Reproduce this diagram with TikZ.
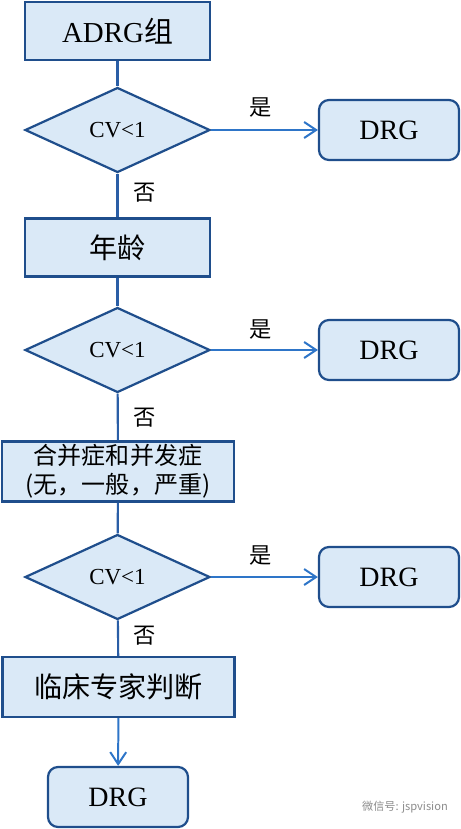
\documentclass[tikz,border=0pt]{standalone}
\usepackage{fontspec}
\setmainfont{Liberation Serif}
\newfontfamily\cjk{Noto Sans CJK SC}
\usetikzlibrary{shapes.geometric,arrows.meta}
\definecolor{boxfill}{HTML}{DAE9F7}
\definecolor{boxline}{HTML}{1F4E8C}
\definecolor{linkdark}{HTML}{2A5EA6}
\definecolor{linkblue}{HTML}{2E75C8}
\begin{document}
\begin{tikzpicture}[x=0.03cm, y=-0.03cm,
    stepbox/.style={draw=boxline, fill=boxfill, line width=2.1pt, inner sep=0pt,
      minimum width=5.55cm, minimum height=1.74cm},
    widebox/.style={stepbox, minimum width=6.96cm, minimum height=1.8cm},
    cvtest/.style={diamond, draw=boxline, fill=boxfill, line width=1.9pt, inner sep=0pt,
      minimum width=5.55cm, minimum height=2.55cm, font=\fontsize{19.6}{22}\selectfont},
    drgbox/.style={draw=boxline, fill=boxfill, line width=1.9pt, rounded corners=0.3cm,
      minimum width=4.2cm, minimum height=1.8cm, font=\fontsize{23.9}{26}\selectfont},
    link/.style={draw=linkdark, line width=1.8pt},
    arr/.style={draw=linkblue, line width=1.7pt,
      -{Straight Barb[length=0.36cm, width=0.48cm, line width=1.7pt]}},
    yesno/.style={font=\cjk\fontsize{19}{21}\selectfont}]
  \useasboundingbox (0,0) rectangle (461,829);
  % left column
  \node[stepbox, font=\fontsize{24.7}{28}\selectfont] (adrg) at (117.5,31) {ADRG{\cjk 组}};
  \node[cvtest] (cv1) at (117.5,130) {CV<1};
  \node[stepbox, font=\cjk\fontsize{24}{27}\selectfont] (age) at (117.5,247.5) {年龄};
  \node[cvtest] (cv2) at (117.5,350) {CV<1};
  \node[widebox, font=\cjk\fontsize{20.5}{25}\selectfont, align=center] (cc) at (118,471.5)
    {合并症和并发症\\(无，一般，严重)};
  \node[cvtest] (cv3) at (117.5,577) {CV<1};
  \node[widebox, font=\cjk\fontsize{24}{27}\selectfont] (expert) at (118.5,687) {临床专家判断};
  \node[drgbox] (drg4) at (118,797) {DRG};
  % right column
  \node[drgbox] (drg1) at (389,130) {DRG};
  \node[drgbox] (drg2) at (389,350) {DRG};
  \node[drgbox] (drg3) at (389,577) {DRG};
  % labels
  \node[yesno] (yes1) at (261,108) {是};
  \node[yesno] (yes2) at (261,330) {是};
  \node[yesno] (yes3) at (261,556) {是};
  \node[yesno] (no1) at (145,193) {否};
  \node[yesno] (no2) at (145,418) {否};
  \node[yesno] (no3) at (145,636) {否};
  % connectors
  \draw[link] (adrg) -- (cv1);
  \draw[link] (cv1) -- (age);
  \draw[link] (age) -- (cv2);
  \draw[link] (cv2) -- (cc);
  \draw[link] (cc) -- (cv3);
  \draw[link] (cv3) -- (expert);
  \draw[arr] (expert) -- (drg4);
  \draw[arr] (cv1) -- (drg1);
  \draw[arr] (cv2) -- (drg2);
  \draw[arr] (cv3) -- (drg3);
  \node[text=black!45, font=\cjk\fontsize{9.5}{11}\selectfont] (mark) at (405,807) {微信号: jspvision};
\end{tikzpicture}
\end{document}
